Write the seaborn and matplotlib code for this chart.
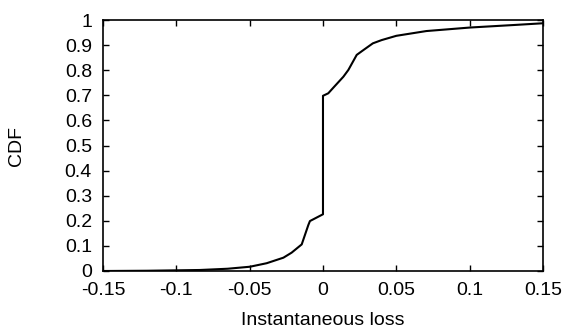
import matplotlib
matplotlib.use("Agg")
import matplotlib.pyplot as plt
import seaborn as sns
import pandas as pd
from matplotlib.ticker import FuncFormatter

# CDF points
loss = [-0.15, -0.12, -0.084, -0.065, -0.0498, -0.0384, -0.027, -0.0214, -0.0145,
        -0.010, -0.0089, 0.0, 0.0, 0.0036, 0.007, 0.0139, 0.0173, 0.023, 0.0275,
        0.034, 0.040, 0.050, 0.0705, 0.1002, 0.130, 0.15]
cdf = [0.0, 0.001, 0.004, 0.009, 0.017, 0.031, 0.053, 0.073, 0.106,
       0.183, 0.199, 0.226, 0.698, 0.708, 0.730, 0.774, 0.801, 0.861, 0.880,
       0.907, 0.920, 0.937, 0.956, 0.970, 0.980, 0.987]

xticks = [-0.15, -0.1, -0.05, 0, 0.05, 0.1, 0.15]
yticks = [0, 0.1, 0.2, 0.3, 0.4, 0.5, 0.6, 0.7, 0.8, 0.9, 1]

df = pd.DataFrame({"loss": loss, "cdf": cdf})

sns.set_style("ticks")
plt.rcParams["font.family"] = ["Liberation Sans", "DejaVu Sans"]
plt.rcParams["xtick.direction"] = "in"
plt.rcParams["ytick.direction"] = "in"

fig = plt.figure(figsize=(5.65, 3.29), dpi=100)
ax = fig.add_axes([0.1823, 0.1763, 0.961 - 0.1823, 0.9392 - 0.1763])

sns.lineplot(data=df, x="loss", y="cdf", sort=False, estimator=None,
             color="black", linewidth=1.5, ax=ax)

ax.set_xlim(-0.15, 0.15)
ax.set_ylim(0, 1)
ax.set_xticks(xticks)
ax.set_yticks(yticks)
fmt = FuncFormatter(lambda v, p: "%g" % round(v, 3))
ax.xaxis.set_major_formatter(fmt)
ax.yaxis.set_major_formatter(fmt)
ax.tick_params(axis="both", which="major", length=4, width=1, labelsize=14,
               top=True, right=True, color="black", labelcolor="black")
ax.tick_params(axis="x", pad=8)
ax.tick_params(axis="y", pad=8)
for s in ax.spines.values():
    s.set_visible(True)
    s.set_color("black")
    s.set_linewidth(1.2)

ax.set_xlabel("Instantaneous loss", fontsize=14, color="black")
ax.set_ylabel("CDF", fontsize=14, color="black")
ax.xaxis.set_label_coords(0.5, -0.163)
ax.yaxis.set_label_coords(-0.177, 0.5)

fig.savefig("out.png", dpi=100)
